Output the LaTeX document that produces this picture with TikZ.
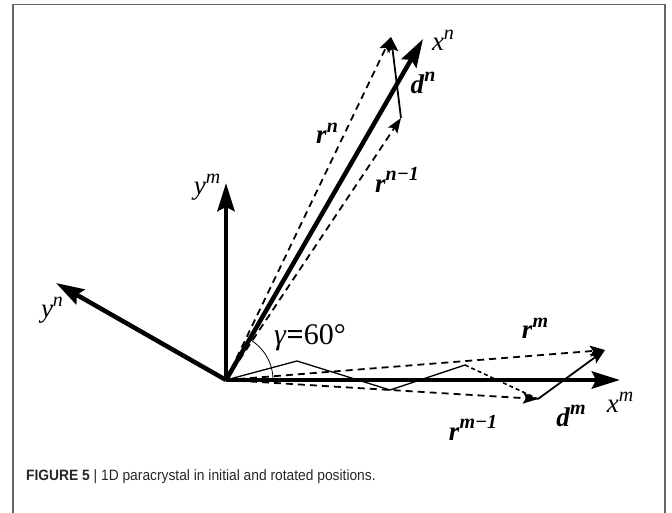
\documentclass[tikz,border=0pt]{standalone}
\usepackage{fontspec}
\usepackage{graphicx}
\setmainfont{Liberation Serif}
\newfontfamily\capfont{Liberation Sans}
\usetikzlibrary{arrows.meta}
\newcommand{\supr}[1]{\raisebox{0.42em}{\fontsize{20}{22}\selectfont #1}}
\newcommand{\bvec}[2]{\textbf{\textit{#1}\supr{\textit{#2}}}}
\newcommand{\axlab}[2]{\textit{#1}\supr{\textit{#2}}}
\begin{document}
\begin{tikzpicture}[x=1pt,y=-1pt,
  frame/.style={draw=black!60,line width=1.5pt},
  axis/.style={line width=4.5pt,-{Stealth[length=28pt,width=17pt,inset=4pt]}},
  dashvec/.style={line width=1.8pt,dash pattern=on 7pt off 5pt,-{Stealth[length=15pt,width=11pt,inset=3pt]}},
  dvec/.style={line width=1.8pt,-{Stealth[length=15pt,width=11pt,inset=3pt]}},
  zig/.style={line width=1.3pt},
  dotseg/.style={line width=1.6pt,dash pattern=on 4pt off 3pt},
  lab/.style={inner sep=0pt,font=\fontsize{27}{30}\selectfont},
  captext/.style={inner sep=0pt,anchor=west,text=black!85,font=\capfont\fontsize{15}{17}\selectfont}]
\useasboundingbox (0,0) rectangle (672,513);
\draw[frame] (13,513) -- (13,4.5) -- (665,4.5) -- (665,513);
% points
\coordinate (O) at (226,380);
\coordinate (xm) at (620,380);
\coordinate (ym) at (226,183);
\coordinate (yn) at (56,283);
\coordinate (xn) at (423,39);
\coordinate (Pn) at (391,37);
\coordinate (Pn1) at (401,118);
\coordinate (Pm) at (605,350);
\coordinate (Pm1) at (538,399);
\coordinate (Z1) at (297,361);
\coordinate (Z2) at (390,390);
\coordinate (Z3) at (465,365);
% dashed position vectors
\draw[dashvec] (O) -- (Pn);
\draw[dashvec] (O) -- (Pn1);
\draw[dashvec] (O) -- (Pm);
\draw[dashvec] (O) -- (Pm1);
% chain
\draw[zig] (O) -- (Z1) -- (Z2) -- (Z3);
\draw[dotseg] (Z3) -- (Pm1);
% displacement vectors
\draw[dvec] (Pn1) -- (Pn);
\draw[dvec] (Pm1) -- (Pm);
% axes
\draw[axis] (O) -- (xm);
\draw[axis] (O) -- (ym);
\draw[axis] (O) -- (yn);
\draw[axis] (O) -- (xn);
% angle
\draw[line width=0.8pt] (O) ++(47,0) arc[start angle=0,end angle=-60,radius=47];
% labels
\node[lab] (lxn) at (443,40) {\axlab{x}{n}};
\node[lab] (lym) at (207,187) {\axlab{y}{m}};
\node[lab] (lyn) at (52,310) {\axlab{y}{n}};
\node[lab] (lxm) at (620,402) {\axlab{x}{m}};
\node[lab] (lrn) at (327,133) {\bvec{r}{n}};
\node[lab] (ldn) at (423,83) {\bvec{d}{n}};
\node[lab] (lrn1) at (397,180) {\bvec{r}{n−1}};
\node[lab] (lrm) at (535,328) {\bvec{r}{m}};
\node[lab] (lrm1) at (473,428) {\bvec{r}{m−1}};
\node[lab] (ldm) at (571,416) {\bvec{d}{m}};
\node[lab,font=\fontsize{30}{32}\selectfont] (lg) at (310,338) {\textit{γ}\textbf{=}60°};
\node[captext] (caption) at (26,477) {\scalebox{0.92}[1]{\textbf{FIGURE 5} | 1D paracrystal in initial and rotated positions.}};
\end{tikzpicture}
\end{document}
